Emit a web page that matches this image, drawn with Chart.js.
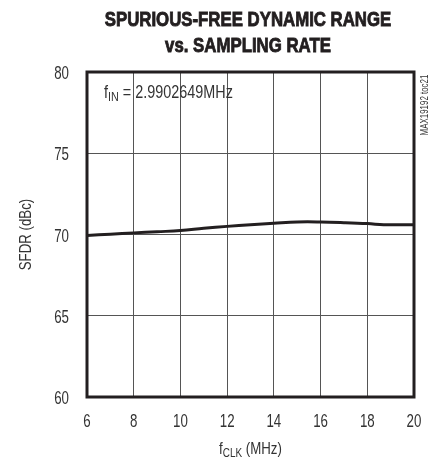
<!DOCTYPE html>
<html>
<head>
<meta charset="utf-8">
<script src="https://cdn.jsdelivr.net/npm/chart.js@4"></script>
<style>
  html, body { margin: 0; padding: 0; background: #fff; }
  #wrap { width: 436px; height: 462px; }
</style>
</head>
<body>
<div id="wrap"><canvas id="sfdr" width="436" height="462"></canvas></div>
<script>
const fclk = [6, 7, 8, 9, 10, 11, 12, 13, 14, 15, 16, 17, 18, 18.7, 19, 20];
const sfdr = [69.94, 70.02, 70.1, 70.17, 70.24, 70.38, 70.5, 70.6, 70.69, 70.77, 70.77, 70.73, 70.67, 70.6, 70.6, 70.6];
const xTicks = [6, 8, 10, 12, 14, 16, 18, 20];
const yTicks = [60, 65, 70, 75, 80];
const titleLines = ['SPURIOUS-FREE DYNAMIC RANGE', 'vs. SAMPLING RATE'];

const FONT = '"Liberation Sans", Arial, sans-serif';

// draw squeezed text; runs = [[text, sizeScale, dy], ...]
function narrow(ctx, x, y, runs, size, align, bold, sq, heavy) {
  const w = runs.map(r => {
    ctx.font = `${bold ? 'bold ' : ''}${size * r[1]}px ${FONT}`;
    return ctx.measureText(r[0]).width * sq;
  });
  const total = w.reduce((s, v) => s + v, 0);
  let x0 = align === 'center' ? x - total / 2 : align === 'right' ? x - total : x;
  ctx.textAlign = 'left';
  ctx.textBaseline = 'alphabetic';
  runs.forEach((r, i) => {
    ctx.save();
    ctx.font = `${bold ? 'bold ' : ''}${size * r[1]}px ${FONT}`;
    ctx.translate(x0, y + r[2]);
    ctx.scale(sq, 1);
    ctx.fillText(r[0], 0, 0);
    if (heavy) {
      ctx.lineWidth = heavy;
      ctx.strokeStyle = ctx.fillStyle;
      ctx.strokeText(r[0], 0, 0);
    }
    ctx.restore();
    x0 += w[i];
  });
}

const decor = {
  id: 'decor',
  afterDraw(chart) {
    const { ctx, chartArea: a, scales } = chart;
    ctx.save();
    // frame
    ctx.strokeStyle = '#231f20';
    ctx.lineWidth = 3;
    ctx.strokeRect(a.left, a.top, a.right - a.left, a.bottom - a.top);

    // tick labels from the scales
    ctx.fillStyle = '#333';
    xTicks.forEach(v => {
      narrow(ctx, scales.x.getPixelForValue(v), 427, [[String(v), 1, 0]], 19, 'center', false, 0.7);
    });
    yTicks.forEach(v => {
      narrow(ctx, 69, scales.y.getPixelForValue(v) + 7, [[String(v), 1, 0]], 19, 'right', false, 0.7);
    });

    // title
    ctx.fillStyle = '#231f20';
    narrow(ctx, 248, 26, [[titleLines[0], 1, 0]], 21, 'center', true, 0.8, 0.9);
    narrow(ctx, 248, 52, [[titleLines[1], 1, 0]], 21, 'center', true, 0.8, 0.9);

    // annotation
    ctx.fillStyle = '#333';
    narrow(ctx, 104, 98, [['f', 1, 0], ['IN', 0.75, 3], [' = 2.9902649MHz', 1, 0]], 18, 'left', false, 0.8);

    // x axis title
    narrow(ctx, (a.left + a.right) / 2, 454, [['f', 1, 0], ['CLK', 0.75, 3], [' (MHz)', 1, 0]], 17, 'center', false, 0.78);

    // y axis title
    ctx.save();
    ctx.translate(31, (a.top + a.bottom) / 2);
    ctx.rotate(-Math.PI / 2);
    narrow(ctx, 0, 0, [['SFDR (dBc)', 1, 0]], 17, 'center', false, 0.78);
    ctx.restore();

    // side tag
    ctx.save();
    ctx.translate(428, 105);
    ctx.rotate(-Math.PI / 2);
    narrow(ctx, 0, 0, [['MAX19192 toc21', 1, 0]], 11, 'center', false, 0.72);
    ctx.restore();
    ctx.restore();
  }
};

new Chart(document.getElementById('sfdr'), {
  type: 'line',
  data: {
    datasets: [{
      data: fclk.map((x, i) => ({ x, y: sfdr[i] })),
      borderColor: '#231f20',
      borderWidth: 3,
      pointRadius: 0,
      tension: 0.4,
      fill: false
    }]
  },
  options: {
    responsive: false,
    animation: false,
    layout: { padding: { left: 37, right: 22, top: 72, bottom: 25 } },
    plugins: { legend: { display: false }, tooltip: { enabled: false } },
    scales: {
      x: {
        type: 'linear',
        min: 6,
        max: 20,
        afterBuildTicks: s => { s.ticks = xTicks.map(v => ({ value: v })); },
        afterFit: s => { s.height = 40; },
        grid: { color: '#555', lineWidth: 1, drawTicks: false },
        border: { display: false },
        ticks: { display: false }
      },
      y: {
        min: 60,
        max: 80,
        afterBuildTicks: s => { s.ticks = yTicks.map(v => ({ value: v })); },
        afterFit: s => { s.width = 50; },
        grid: { color: '#555', lineWidth: 1, drawTicks: false },
        border: { display: false },
        ticks: { display: false }
      }
    }
  },
  plugins: [decor]
});
</script>
</body>
</html>
